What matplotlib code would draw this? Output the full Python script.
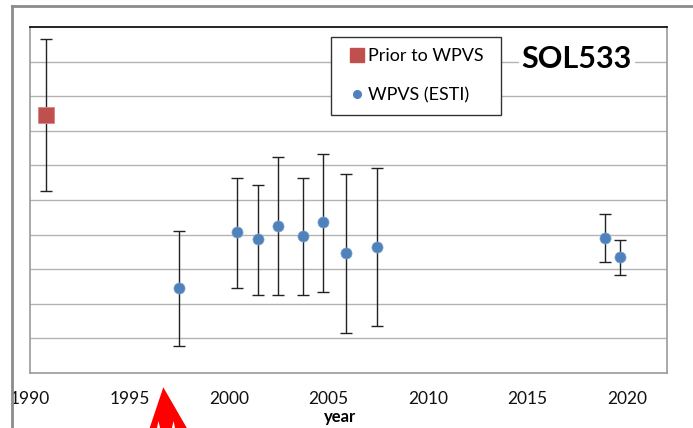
import matplotlib
matplotlib.use("Agg")
from matplotlib import pyplot as plt
from matplotlib.lines import Line2D
from matplotlib.patches import Polygon, Rectangle
import numpy as np

plt.rcParams['font.family'] = ['Lato', 'DejaVu Sans']

# Prior to WPVS measurement
prior_year = [1990.8]
prior_val = [7.46]
prior_lo = [5.27]
prior_hi = [9.65]

# WPVS (ESTI) measurements
wpvs_year = [1997.5, 2000.4, 2001.47, 2002.48, 2003.73, 2004.74, 2005.88,
             2007.45, 2018.89, 2019.65]
wpvs_val = [2.47, 4.07, 3.87, 4.26, 3.95, 4.37, 3.46, 3.65, 3.89, 3.34]
wpvs_lo = [0.77, 2.46, 2.26, 2.26, 2.26, 2.34, 1.16, 1.35, 3.21, 2.84]
wpvs_hi = [4.11, 5.64, 5.43, 6.23, 5.64, 6.34, 5.74, 5.93, 4.60, 3.85]

x_ticks = [1990, 1995, 2000, 2005, 2010, 2015, 2020]

W, H = 693, 428
fig = plt.figure(figsize=(W / 100, H / 100), dpi=100)
ax = fig.add_axes([30 / W, 1 - 373 / H, 636.7 / W, 346 / H])


def px(x, y):
    # pixel position in the picture -> axes fraction
    return (x - 30) / 636.7, (373 - y) / 346


# error bars (asymmetric)
pv = np.array(prior_val)
ax.errorbar(prior_year, prior_val,
            yerr=[pv - np.array(prior_lo), np.array(prior_hi) - pv],
            fmt='none', ecolor='#222222', elinewidth=1, capsize=4, capthick=1,
            zorder=3)
wv = np.array(wpvs_val)
ax.errorbar(wpvs_year, wpvs_val,
            yerr=[wv - np.array(wpvs_lo), np.array(wpvs_hi) - wv],
            fmt='none', ecolor='#222222', elinewidth=1, capsize=4, capthick=1,
            zorder=3)

ax.plot(prior_year, prior_val, 's', color='#c0504d', ms=11.5, mec='#d98583',
        mew=0.6, zorder=4)
ax.plot(wpvs_year, wpvs_val, 'o', color='#4f81bd', ms=8, mec='#7fa3d0',
        mew=0.5, zorder=4)

ax.set_xlim(1990, 2022)
ax.set_ylim(0, 10)
ax.set_xticks(x_ticks)
ax.set_xticklabels([str(t) for t in x_ticks], fontsize=12.5, color='#111111')
ax.set_yticks(np.arange(1, 10))
ax.set_yticklabels([])
ax.tick_params(axis='both', length=0)
ax.tick_params(axis='x', pad=13)
ax.grid(axis='y', color='#b3b3b3', lw=1)
ax.set_axisbelow(True)

for s in ['left', 'bottom', 'right']:
    ax.spines[s].set_color('#9a9a9a')
    ax.spines[s].set_linewidth(1.2)
ax.spines['top'].set_color('#000000')
ax.spines['top'].set_linewidth(1.2)

fig.text(340 / W, 1 - 417 / H, 'year', fontsize=12, fontweight='bold',
         ha='center', va='center')

# legend box drawn by hand, entries from ax.legend without frame
x0, y0 = px(330.7, 115)
x1, y1 = px(501, 36.7)
ax.add_patch(Rectangle((x0, y0), x1 - x0, y1 - y0, transform=ax.transAxes,
                       facecolor='white', edgecolor='#333333', lw=1, zorder=5))
handles = [
    Line2D([], [], ls='none', marker='s', color='#c0504d', ms=9.5),
    Line2D([], [], ls='none', marker='o', color='#4f81bd', ms=5.5),
]
leg = ax.legend(handles, ['Prior to WPVS', 'WPVS (ESTI)'], loc='upper left',
                bbox_to_anchor=px(352, 48), fontsize=13, frameon=False,
                handlelength=0.6, handletextpad=0.3, labelspacing=1.28,
                borderpad=0, borderaxespad=0)
leg.set_zorder(6)

ax.text(*px(576.7, 59.5), 'SOL533', transform=ax.transAxes,
        fontsize=22, fontweight='bold', ha='center', va='center', zorder=5,
        bbox=dict(facecolor='white', edgecolor='none', pad=2))

# outer chart frame
fig.add_artist(Line2D([11.7 / W, 11.7 / W], [0, 1 - 6 / H], color='#8c8c8c',
                      lw=2, transform=fig.transFigure))
fig.add_artist(Line2D([11.7 / W, 1], [1 - 6 / H, 1 - 6 / H], color='#8c8c8c',
                      lw=2, transform=fig.transFigure))

# red arrow
arrow_px = [(163.3, 387.3), (188, 430), (175.5, 430), (173.5, 421),
            (171.5, 430), (160.5, 430), (158.5, 421), (156.5, 430), (149, 430)]
arrow = Polygon([(x / W, 1 - y / H) for x, y in arrow_px], closed=True,
                facecolor='#ff0000', edgecolor='none',
                transform=fig.transFigure, clip_on=False)
fig.add_artist(arrow)

plt.savefig('out.png', dpi=100)
